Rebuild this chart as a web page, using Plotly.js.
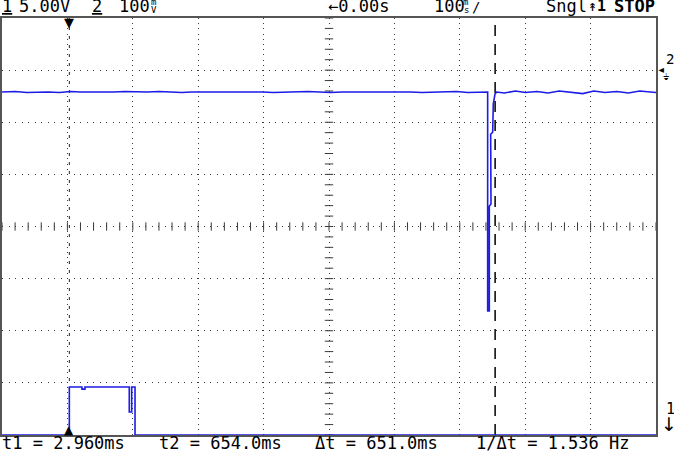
<!DOCTYPE html>
<html>
<head>
<meta charset="utf-8">
<script src="https://cdn.plot.ly/plotly-3.0.1.min.js"></script>
<style>html,body{margin:0;padding:0;background:#fff}#plot{width:674px;height:452px}</style>
</head>
<body>
<div id="plot"></div>
<script>
// Channel 1 (5.00 V/div): time in ms, volts
const ch1Time = [-100, 2.96, 2.96, 22.3, 22.3, 26.9, 26.9, 94.6, 94.6, 98.3, 98.3, 103.4, 103.4, 900];
const ch1Volts = [0, 0, 4.6, 4.6, 4.4, 4.4, 4.6, 4.6, 2.2, 2.2, 4.6, 4.6, 0, 0];

// Channel 2 (100 mV/div): time in ms, millivolts
const ch2Time = [-100, -80, -62, -45, -30, -12, 5, 20, 38, 55, 70, 88, 105, 122, 140, 158, 175, 190, 210, 228,
  245, 262, 280, 298, 315, 332, 350, 368, 385, 402, 420, 438, 455, 472, 490, 508, 525, 542, 560, 578,
  595, 612, 628, 642.6, 642.6, 645.1, 645.1, 647.7, 647.2, 650.3, 651.2, 653.8, 656.4,
  668, 685, 700, 718, 735, 752, 770, 788, 805, 822, 840, 858, 875, 892, 900];
const ch2mV = [-42, -41, -43, -42, -42, -43, -41, -42, -42, -43, -42, -41, -42, -42, -41, -42, -43, -42, -42, -41,
  -42, -42, -41, -42, -43, -42, -42, -41, -42, -43, -42, -42, -41, -42, -42, -41, -42, -43, -42, -42,
  -41, -43, -42, -42, -462, -462, -261, -257, -123, -119, -65, -46, -42,
  -44, -40, -43, -41, -44, -40, -42, -45, -40, -43, -41, -44, -40, -42, -43];

// Cursors (ms)
const cursorNames = ['t1', 't2'];
const cursorTimes = [2.96, 654.0];

// Readout texts
const topTexts = ['5.00V', '100', '←0.00s', '100', 'Sngl', 'STOP'];
const bottomTexts = ['t1 = 2.960ms', 't2 = 654.0ms', 'Δt = 651.0ms', '1/Δt = 1.536 Hz'];

const BLUE = '#1c1ce6';
const GRID = '#3a3a3a';
const FONT = 'DejaVu Sans Mono';

// graticule tick marks on the centre lines
const hx = [], hy = [], vx = [], vy = [];
for (let t = -100; t <= 900; t += 20) { hx.push(t); hy.push(20); }
for (let v = 0; v <= 40; v += 1) { vx.push(400); vy.push(v); }

const traces = [
  {x: hx, y: hy, type: 'scatter', mode: 'markers', hoverinfo: 'skip',
   marker: {symbol: 'line-ns', size: 6, line: {width: 1, color: GRID}}},
  {x: vx, y: vy, type: 'scatter', mode: 'markers', hoverinfo: 'skip',
   marker: {symbol: 'line-ew', size: 6, line: {width: 1, color: GRID}}},
  {x: ch1Time, y: ch1Volts, type: 'scatter', mode: 'lines', name: 'CH1',
   line: {color: BLUE, width: 1.6, shape: 'linear'}},
  {x: ch2Time, y: ch2mV, type: 'scatter', mode: 'lines', name: 'CH2', yaxis: 'y2',
   line: {color: BLUE, width: 1.6}}
];

const L = 2, T = 18, W = 654, H = 417;
function ann(text, px, py, size, extra) {
  return Object.assign({
    text: text, xref: 'paper', yref: 'paper',
    x: (px - L) / W, y: (T + H - py) / H,
    xanchor: 'left', yanchor: 'middle', showarrow: false,
    font: {family: FONT, size: size, color: '#000'}
  }, extra || {});
}

const annotations = [
  ann('<u>1</u>', 0, 6, 17),
  ann(topTexts[0], 17, 6, 17),
  ann('<u>2</u>', 90, 6, 17),
  ann(topTexts[1], 117, 6, 17),
  ann('m', 149, 2, 9),
  ann('V', 149, 10, 9),
  ann(topTexts[2], 326, 6, 17),
  ann(topTexts[3], 432, 6, 17),
  ann('m', 461, 2, 9),
  ann('s', 462, 10, 9),
  ann('/', 470, 7, 14),
  ann(topTexts[4], 544, 6, 17),
  ann('↟<b>1</b>', 586, 6, 15),
  ann('<b>' + topTexts[5] + '</b>', 612, 6, 17),
  ann(bottomTexts[0], 0, 443, 17),
  ann(bottomTexts[1], 157, 443, 17),
  ann(bottomTexts[2], 313, 443, 17),
  ann(bottomTexts[3], 474, 443, 17),
  ann('2', 664, 59, 14),
  ann('◂', 655, 69, 14),
  ann('⏚', 661, 77, 9),
  ann('1', 664, 409, 15),
  ann('↓', 659, 424, 19, {font: {family: 'DejaVu Sans', size: 19, color: '#000'}}),
  {text: '▼', xref: 'x', yref: 'paper', x: cursorTimes[0], y: (T + H - 22) / H, xanchor: 'center',
   yanchor: 'middle', showarrow: false, font: {family: 'DejaVu Sans', size: 13, color: '#000'}},
  {text: '▲', xref: 'x', yref: 'paper', x: cursorTimes[0], y: (T + H - 430) / H, xanchor: 'center',
   yanchor: 'middle', showarrow: false, font: {family: 'DejaVu Sans', size: 12, color: '#000'}}
];

const shapes = [
  {type: 'line', xref: 'x', yref: 'paper', x0: cursorTimes[0], x1: cursorTimes[0], y0: 0, y1: 1,
   line: {color: '#222', width: 1, dash: '3px,6px'}, layer: 'below'},
  {type: 'line', xref: 'x', yref: 'paper', x0: cursorTimes[1], x1: cursorTimes[1], y0: 0, y1: 1,
   line: {color: '#000', width: 1.5, dash: '11px,8px'}, layer: 'below'}
];

const layout = {
  width: 674, height: 452,
  margin: {l: L, r: 674 - L - W, t: T, b: 452 - T - H, pad: 0},
  paper_bgcolor: '#fff', plot_bgcolor: '#fff',
  showlegend: false,
  xaxis: {range: [-100, 900], tick0: 0, dtick: 100, showgrid: true, gridcolor: GRID, gridwidth: 1,
          griddash: '1px,4.2px', showticklabels: false, ticks: '', zeroline: false,
          showline: true, mirror: true, linecolor: '#555', linewidth: 2, fixedrange: true},
  yaxis: {range: [0, 40], tick0: 0, dtick: 5, showgrid: true, gridcolor: GRID, gridwidth: 1,
          griddash: '1px,5.5px', showticklabels: false, ticks: '', zeroline: false,
          showline: true, mirror: true, linecolor: '#555', linewidth: 2, fixedrange: true},
  yaxis2: {overlaying: 'y', range: [-700, 100], visible: false, showgrid: false, zeroline: false},
  annotations: annotations,
  shapes: shapes
};

Plotly.newPlot('plot', traces, layout, {staticPlot: true, displayModeBar: false});
</script>
</body>
</html>
